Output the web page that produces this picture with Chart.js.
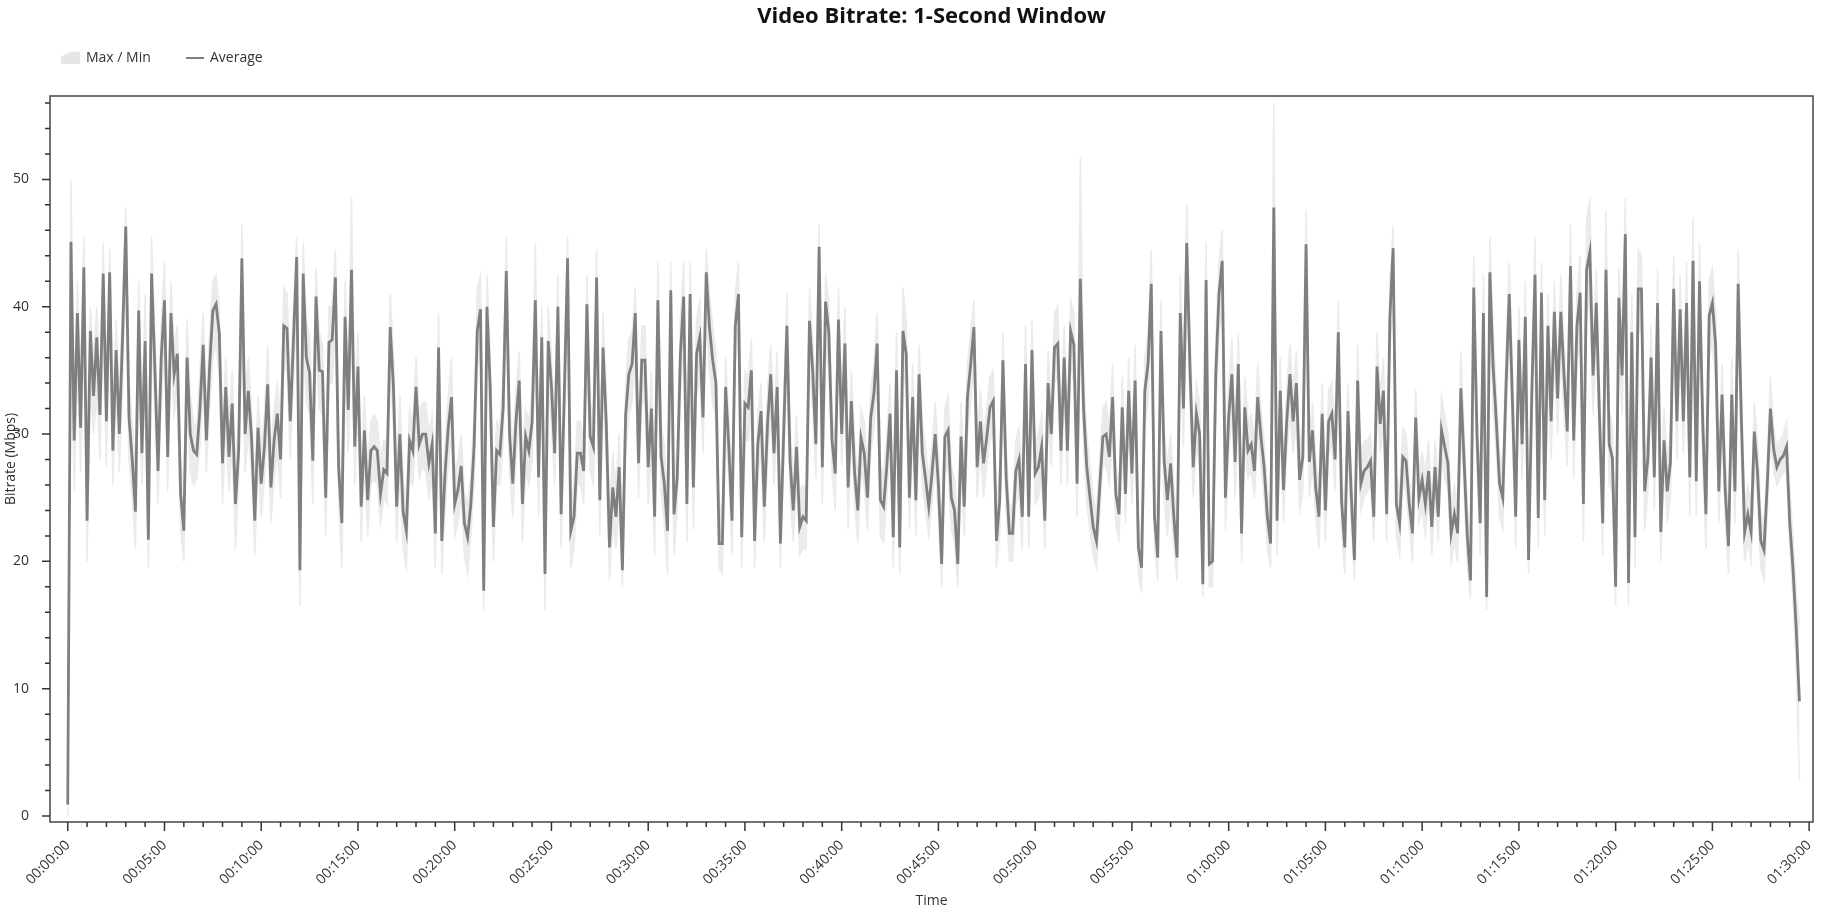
<!DOCTYPE html>
<html>
<head>
<meta charset="utf-8">
<title>Video Bitrate: 1-Second Window</title>
<script src="https://cdn.jsdelivr.net/npm/chart.js@4.4.1/dist/chart.umd.min.js"></script>
<style>
  html, body { margin: 0; padding: 0; background: #fff; }
  #wrap { width: 1837px; height: 912px; position: relative; }
</style>
</head>
<body>
<div id="wrap"><canvas id="bitrateChart"></canvas></div>
<script>
// values, one sample every 10 seconds (Mbps)
const stepSec = 10;
const chartTitle = 'Video Bitrate: 1-Second Window';

const avgMbps = [
  // 00:00 - 00:15
  0.9, 45.1, 29.5, 39.5, 30.5, 43.1, 23.2, 38.1, 33, 37.6,
  31.5, 42.6, 31, 42.7, 28.7, 36.6, 30, 37.6, 46.3, 31.3,
  28, 23.9, 39.7, 28.5, 37.3, 21.7, 42.6, 35.3, 27.1, 36,
  40.5, 28.2, 39.5, 34.7, 36.3, 25.3, 22.4, 36, 30, 28.7,
  28.4, 32, 37, 29.5, 35.3, 39.7, 40.2, 37.9, 27.7, 33.7,
  28.2, 32.4, 24.5, 28.7, 43.8, 30, 33.4, 29.7, 23.2, 30.5,
  26.1, 29, 33.9, 25.8, 29.5, 31.6, 28, 38.5, 38.3, 31,
  37.4, 43.9, 19.3, 42.6, 36, 34.8, 27.9, 40.8, 35, 34.9,
  25, 37.2, 37.4, 42.3, 27.4, 23, 39.2, 31.9, 42.9, 29,
  // 00:15 - 00:30
  35.3, 24.3, 30.3, 24.8, 28.7, 29, 28.7, 25.3, 27.2, 26.9,
  38.4, 33.7, 24.3, 30, 23.9, 22.4, 29.5, 28.7, 33.7, 29.2,
  30, 30, 27.7, 29.2, 22.2, 36.8, 21.6, 26.9, 30.5, 32.9,
  24.5, 25.6, 27.5, 23, 21.9, 24.5, 29, 38.1, 39.8, 17.7,
  40, 33.7, 22.7, 28.7, 28.4, 32, 42.8, 30, 26.1, 31,
  34.2, 24.5, 29.8, 28.7, 31, 40.5, 26.6, 37.6, 19, 37.3,
  33.7, 28.5, 40, 23.7, 33.2, 43.8, 22.4, 23.5, 28.5, 28.5,
  27.1, 40.2, 29.8, 29, 42.3, 24.8, 36.8, 30.8, 21.1, 25.8,
  23.5, 27.4, 19.3, 31.5, 34.7, 35.5, 39.5, 27.7, 35.8, 35.8,
  // 00:30 - 00:45
  27.4, 32, 23.5, 40.5, 28.2, 26.1, 22.4, 41.3, 23.7, 26.6,
  36.3, 40.8, 24.5, 41, 25.8, 36.3, 37.6, 31.3, 42.7, 38.4,
  35.8, 34, 21.4, 21.4, 33.7, 29, 23.2, 38.5, 41, 21.9,
  32.4, 32.1, 35, 21.6, 29.2, 31.8, 24.3, 30.8, 34.7, 28.5,
  33.7, 21.4, 30, 38.5, 27.9, 24, 29, 22.7, 23.5, 23.2,
  38.9, 35, 29.2, 44.7, 27.4, 40.4, 38, 29.5, 26.9, 39,
  30, 37.1, 25.8, 32.6, 27, 24, 29.7, 28.5, 25, 31.3,
  33.2, 37.1, 24.8, 24.3, 27.5, 31.6, 21.9, 35, 21.1, 38.1,
  36.3, 25, 32.9, 24.8, 34.7, 28.5, 26.5, 24.3, 26.9, 30,
  // 00:45 - 01:00
  26, 19.8, 29.8, 30.3, 25, 24, 19.8, 29.8, 24.3, 32.9,
  35.5, 38.4, 27.4, 31, 27.7, 29.8, 32.1, 32.6, 21.6, 24.8,
  35.8, 26.6, 22.2, 22.2, 27.1, 28, 23.5, 35.5, 23.5, 36.6,
  26.9, 27.4, 29, 23.2, 34, 30, 36.8, 37.1, 28.7, 36,
  28.7, 38.1, 37, 26.1, 42.2, 32, 27.4, 25, 22.7, 21.6,
  25.8, 29.8, 30, 28.2, 32.9, 25.3, 23.7, 32.1, 25.3, 33.4,
  26.9, 34.2, 21.1, 19.5, 33.4, 35.5, 41.8, 23.5, 20.3, 38.1,
  27.9, 24.8, 27.7, 23.5, 20.3, 39.5, 32, 45, 35.3, 27.4,
  31.6, 30, 18.2, 42.1, 19.8, 20, 34.7, 41, 43.6, 25,
  // 01:00 - 01:15
  31.3, 34.7, 27.8, 35.5, 22.2, 32.1, 28.7, 29.2, 27.1, 32.9,
  29.8, 27.4, 23.5, 21.4, 47.8, 23.2, 33.4, 25.6, 31, 34.7,
  31, 34, 26.4, 28.2, 44.9, 27.8, 30.3, 25.8, 23.5, 31.6,
  24, 31, 31.6, 28, 38, 24.8, 21.1, 31.8, 25.3, 20.1,
  34.2, 26.1, 27.1, 27.4, 27.9, 23.5, 35.3, 30.8, 33.4, 23.7,
  39.2, 44.6, 24.5, 23, 28.2, 27.9, 24.5, 22.2, 31.3, 25,
  26.4, 24.5, 27.1, 22.7, 27.4, 23.5, 30.3, 29, 27.7, 22.2,
  23.7, 22.2, 33.6, 27.9, 22, 18.5, 41.5, 30, 23, 39.5,
  17.2, 42.7, 35.3, 31, 26.1, 25, 33.7, 41, 32.6, 23.5,
  // 01:15 - end
  37.4, 29.2, 39.2, 20.1, 33.1, 42.5, 23.4, 41.1, 24.8, 38.5,
  31, 39.6, 32.8, 39.6, 34.6, 30.2, 43.2, 29.5, 38.5, 41.1,
  24.5, 42.9, 44.3, 34.6, 40.3, 31.3, 23, 42.9, 29.2, 28.1,
  18, 40.7, 34.6, 45.7, 18.3, 38, 21.9, 41.4, 41.4, 25.5,
  28.1, 36, 26.6, 40.3, 22.3, 29.5, 25.5, 27.8, 41.4, 31,
  39.8, 31, 40.3, 26.6, 43.6, 26.3, 42, 31, 23.7, 39.3,
  40.3, 37, 25.5, 33.1, 25.5, 21.2, 33.1, 25.5, 41.8, 31,
  22.3, 23.7, 22.3, 30.2, 27, 21.6, 20.9, 25.9, 32, 28.8,
  27.4, 28, 28.3, 29, 23, 19.4, 14.7, 9
];

const maxMbps = [
  1.2, 50, 33, 42, 34, 45.5, 27, 40, 36, 40,
  34, 45, 34, 44.5, 32, 39, 33, 40.5, 47.8, 34,
  31, 27, 42, 31, 41, 26, 45.5, 38, 30, 39,
  43.5, 31, 42, 37, 38.5, 28, 26, 39, 33, 31,
  30.5, 35, 39.5, 32, 38, 42, 42.5, 40, 30.5, 36,
  31, 35, 27.5, 31, 46.5, 33, 36, 32, 26, 33,
  29, 31.5, 37, 28.5, 32, 34, 31, 41.5, 41, 34,
  40, 45.5, 23, 45, 39, 37.5, 31, 43, 38, 37,
  28, 40, 40, 44.5, 30, 26, 42, 35, 48.6, 32,

  38, 27, 33, 27.5, 31, 31.5, 31, 28, 29.5, 29.5,
  41, 36.5, 27, 33, 26.5, 25, 32, 31, 36, 31.5,
  32.5, 32.5, 30, 31.5, 25, 39.5, 24.5, 29.5, 33, 36,
  27, 28, 30, 25.5, 24.5, 27, 31.5, 41.5, 42.5, 21,
  42.5, 36.5, 25.5, 31, 30.5, 34.5, 45.5, 32.5, 29, 33.5,
  36.5, 27.5, 32, 31, 33.5, 45, 29.5, 40, 22, 40,
  36, 31, 42.5, 26.5, 36, 45.5, 25, 26, 31, 31,
  29.5, 42.5, 32.5, 31.5, 44.5, 27.5, 39.5, 33.5, 24, 28.5,
  26, 30, 22.5, 34, 37.5, 38, 41.5, 30.5, 38.5, 38.5,

  30, 35, 26, 43.5, 31, 29, 25, 43.5, 26.5, 29,
  39, 43.5, 27.5, 43.5, 28.5, 39, 40.5, 34, 44.5, 41,
  38.5, 36.5, 24.5, 24.5, 36, 31.5, 26, 41, 43.5, 24.5,
  35, 34.5, 37.5, 24.5, 31.5, 34, 27, 33.5, 37, 31,
  36.5, 24.5, 32.5, 41, 30.5, 26.5, 31.5, 25.5, 26, 25.5,
  41.5, 37.5, 31.5, 46.5, 30, 42.5, 40.5, 32, 29.5, 41.5,
  32.5, 40, 28.5, 35, 29.5, 26.5, 32, 31, 27.5, 33.5,
  35.5, 39.5, 27.5, 27, 30, 34, 24.5, 38, 24, 41.5,
  39, 27.5, 35.5, 27.5, 37, 31, 29, 26.5, 29, 32.5,

  28.5, 22.5, 32, 33, 27.5, 26.5, 22.5, 32.5, 27, 35.5,
  38, 40.5, 30, 33.5, 30, 32, 34.5, 35, 24, 27.5,
  38, 29, 24.5, 24.5, 29.5, 30.5, 26, 38.5, 26, 39,
  29.5, 30, 31.5, 25.5, 36.5, 32.5, 39.5, 40, 31, 38.5,
  31, 40.5, 39.5, 28.5, 51.7, 34.5, 30, 27.5, 25, 24,
  28, 32, 32.5, 30.5, 35.5, 27.5, 26, 34.5, 27.5, 36,
  29.5, 37, 23.5, 22, 36, 38, 44.5, 26, 23, 40.5,
  30.5, 27.5, 30, 26, 23, 42.5, 35, 48.1, 38, 30,
  34, 32.5, 21.5, 45, 22.5, 22.5, 37.5, 43.5, 46, 28,

  34, 37.5, 30, 38, 25, 34.5, 31, 31.5, 29.5, 35.5,
  32, 29.5, 26, 24, 56, 26, 36, 28, 33.5, 37,
  33.5, 36.5, 29, 30.5, 47.6, 30, 32.5, 28, 26, 34,
  26.5, 33.5, 34, 30.5, 40.5, 27, 23.5, 34, 27.5, 22.5,
  37, 28.5, 29.5, 29.5, 30, 26, 38, 33, 36, 26,
  42, 46.3, 27, 25.5, 30.5, 30, 26.5, 24.5, 33.5, 27,
  28.5, 27, 29.5, 25, 29.5, 26, 33, 31.5, 30, 24.5,
  26, 24.5, 36.5, 30.5, 24.5, 21, 44, 32.5, 26, 42.5,
  20, 45.5, 38, 33.5, 28.5, 27.5, 36.5, 43.5, 35, 26,

  40, 31.5, 42, 23, 36, 45.5, 26, 43.5, 27.5, 41,
  33.5, 42, 35, 42.5, 37, 32.5, 46.5, 32, 41, 44,
  27, 47, 48.3, 37, 43, 33.5, 25.5, 47.5, 32, 30.5,
  20.5, 43, 37, 48.5, 21, 41, 24.5, 44.5, 44, 28,
  30.5, 38.5, 29, 43, 25, 32, 28, 30, 44, 33.5,
  42.5, 33.5, 43.5, 29, 47, 29, 45, 33.5, 26.5, 42,
  43, 39.5, 28, 35.5, 28, 23.5, 36, 28, 44.5, 33.5,
  24.5, 26, 24.5, 32.5, 29.5, 24, 23, 28, 34.5, 30.5,
  29, 29.5, 30, 31, 25.5, 22, 17.5, 15
];

const minMbps = [
  0, 40, 25.5, 35, 27, 38, 20, 34, 30, 33,
  28, 38, 27.5, 39, 26, 33, 27, 34, 42, 28,
  25, 21, 36, 26, 34, 19.5, 38, 32, 24.5, 32.5,
  37, 25.5, 36, 31.5, 33, 22.5, 20, 32.5, 27, 26,
  26.5, 29, 34, 27, 32, 36, 37, 34.5, 24.5, 30.5,
  25.5, 29, 21, 26, 39, 27, 30, 27, 20.5, 27.5,
  23.5, 26.5, 30.5, 23, 26.5, 28.5, 25, 35, 35, 28,
  34, 39, 16.5, 38, 32.5, 31.5, 24.5, 37, 32, 31.5,
  22, 34, 34, 38, 24.5, 19.5, 35, 28.5, 39, 26,

  32, 21.5, 27.5, 22, 26, 26.5, 26, 23, 25, 24.5,
  35, 30.5, 21.5, 27, 21, 19.5, 26.5, 26, 30.5, 26.5,
  27.5, 27, 25, 26.5, 19.5, 33.5, 19, 24, 27.5, 30,
  22, 23, 25, 20.5, 19, 22, 26, 35, 36.5, 16.2,
  36.5, 30.5, 20, 26, 26, 29, 39, 27, 23.5, 28,
  31, 21.5, 27, 26, 28, 37, 23.5, 34, 16.2, 34,
  30.5, 26, 36.5, 21, 30, 40, 19.5, 21, 26, 26,
  24.5, 36.5, 27, 26, 38.5, 22, 33.5, 28, 18.5, 23,
  21, 24.5, 18, 28.5, 31.5, 32.5, 36, 25, 32.5, 32.5,

  24.5, 29, 20.5, 37, 25.5, 23, 19, 37.5, 20.5, 24,
  33, 37, 21.5, 37.5, 22.5, 33, 34.5, 28.5, 39, 35,
  32.5, 31, 19.5, 19, 30.5, 26.5, 20.5, 35.5, 37.5, 19.5,
  29.5, 29.5, 32, 19.5, 26.5, 29, 21.5, 28, 31.5, 26,
  30.5, 19.5, 27.5, 35, 25, 21.5, 26.5, 20.5, 21, 21,
  35.5, 32, 26.5, 41, 24.5, 37, 35, 27, 24, 35.5,
  27.5, 34, 22.5, 30, 24.5, 21.5, 27, 26, 22.5, 28.5,
  30.5, 34, 22, 21.5, 25, 29, 19.5, 32, 19, 35,
  33.5, 22.5, 30, 22, 31.5, 26, 24, 22, 24.5, 27.5,

  23.5, 18, 27, 27.5, 22.5, 21.5, 18, 27, 22, 30,
  32.5, 35.5, 25, 28.5, 25, 27.5, 29.5, 30, 19.5, 22,
  33, 24, 20, 20, 24.5, 25.5, 21, 32.5, 21, 33.5,
  24.5, 25, 26.5, 21, 31, 27.5, 34, 34.5, 26, 33,
  26, 35.5, 34, 23.5, 38.5, 29, 24.5, 22.5, 20.5, 19.5,
  23.5, 27.5, 27.5, 26, 30, 23, 21.5, 29.5, 23, 30.5,
  24.5, 31.5, 19, 17.5, 30.5, 32.5, 38, 21, 18.5, 35,
  25, 22, 25, 21, 18.5, 36, 29, 41, 32, 25,
  29, 27.5, 17.2, 38.5, 18, 18, 31.5, 37.5, 40, 22.5,

  28.5, 31.5, 25, 32.5, 20, 29.5, 26.5, 27, 25, 30,
  27.5, 25, 21, 19.5, 42, 20.5, 30.5, 23, 28.5, 31.5,
  28.5, 31, 24, 25.5, 41, 25, 27.5, 23.5, 21, 29,
  21.5, 28.5, 29, 25.5, 35, 22.5, 19, 29, 23, 18.5,
  31.5, 24, 25, 25.5, 26, 21.5, 32.5, 28.5, 31, 21.5,
  36, 41, 22, 20.5, 26, 25.5, 22.5, 20, 29, 23,
  24, 22, 25, 20.5, 25, 21.5, 28, 26.5, 25.5, 20,
  21.5, 20, 30.5, 25.5, 19.5, 17, 38, 27.5, 20.5, 36,
  16.2, 39, 32, 28.5, 23.5, 22.5, 30.5, 37.5, 30, 21,

  34, 26.5, 36, 19, 30, 39, 21, 37.5, 22, 35,
  28, 36, 30, 36.5, 31.5, 27.5, 39.5, 26.5, 35.5, 37.5,
  21.5, 39, 40.5, 31.5, 37, 28.5, 20.5, 39.5, 26, 25.5,
  16.5, 37, 31.5, 42, 16.5, 35, 19.5, 38, 38, 22.5,
  25.5, 33, 24, 37, 20, 27, 23, 25, 38, 28,
  36.5, 28.5, 37, 23.5, 40, 23.5, 38.5, 28, 21, 36,
  37, 34, 23, 30.5, 23, 19, 30, 23, 38, 28.5,
  20, 21.5, 20, 27.5, 24.5, 19.5, 18.5, 23.5, 29.5, 27,
  26, 26.5, 27, 27, 21, 17, 11.5, 2.8
];

// axis labels
const timeLabels = ['00:00:00', '00:05:00', '00:10:00', '00:15:00', '00:20:00', '00:25:00',
  '00:30:00', '00:35:00', '00:40:00', '00:45:00', '00:50:00', '00:55:00', '01:00:00',
  '01:05:00', '01:10:00', '01:15:00', '01:20:00', '01:25:00', '01:30:00'];
const yLabels = [0, 10, 20, 30, 40, 50];

const toPoints = arr => arr.map((v, i) => ({ x: i * stepSec, y: v }));

Chart.defaults.font.family = "'Open Sans', 'Noto Sans', sans-serif";
Chart.defaults.font.size = 14;
Chart.defaults.color = '#333';

// box, tick marks, title and legend
const frame = {
  id: 'frame',
  afterDraw(chart) {
    const { ctx, chartArea: a, scales: { x, y } } = chart;
    ctx.save();
    ctx.strokeStyle = '#444';
    ctx.lineWidth = 1.5;
    ctx.strokeRect(a.left, a.top, a.right - a.left, a.bottom - a.top);

    ctx.strokeStyle = '#333';
    ctx.beginPath();
    x.ticks.forEach(t => {
      const px = x.getPixelForValue(t.value);
      const len = t.value % 300 === 0 ? 9 : 5;
      ctx.moveTo(px, a.bottom);
      ctx.lineTo(px, a.bottom + len);
    });
    y.ticks.forEach(t => {
      const py = y.getPixelForValue(t.value);
      const len = t.value % 10 === 0 ? 8 : 5;
      ctx.moveTo(a.left, py);
      ctx.lineTo(a.left - len, py);
    });
    ctx.stroke();

    ctx.fillStyle = '#111';
    ctx.font = "bold 22px 'Open Sans'";
    ctx.textAlign = 'center';
    ctx.textBaseline = 'middle';
    ctx.fillText(chartTitle, (a.left + a.right) / 2, 17);

    // legend
    ctx.fillStyle = '#e6e6e6';
    ctx.beginPath();
    ctx.moveTo(61, 64);
    ctx.lineTo(61, 57);
    ctx.lineTo(70, 52);
    ctx.lineTo(80, 51.5);
    ctx.lineTo(80, 64);
    ctx.closePath();
    ctx.fill();
    ctx.strokeStyle = '#808080';
    ctx.lineWidth = 2;
    ctx.beginPath();
    ctx.moveTo(186, 58);
    ctx.lineTo(204, 58);
    ctx.stroke();
    ctx.fillStyle = '#333';
    ctx.font = "14px 'Open Sans'";
    ctx.textAlign = 'left';
    ctx.fillText(chart.data.datasets[0].label, 86, 58);
    ctx.fillText(chart.data.datasets[2].label, 210, 58);
    ctx.restore();
  }
};

const ctx = document.getElementById('bitrateChart').getContext('2d');
const chart = new Chart(ctx, {
  type: 'line',
  data: {
    datasets: [
      {
        label: 'Max / Min',
        data: toPoints(maxMbps),
        borderColor: '#ebebeb',
        backgroundColor: '#ebebeb',
        borderWidth: 1.5,
        fill: '+1',
        order: 2
      },
      {
        label: 'Min',
        data: toPoints(minMbps),
        borderColor: '#ebebeb',
        borderWidth: 1.5,
        fill: false,
        order: 2
      },
      {
        label: 'Average',
        data: toPoints(avgMbps),
        borderColor: '#7f7f7f',
        borderWidth: 2.8,
        fill: false,
        order: 1
      }
    ]
  },
  options: {
    responsive: true,
    maintainAspectRatio: false,
    animation: false,
    events: [],
    layout: { padding: { top: 96, right: 24, left: 0, bottom: 0 } },
    elements: { point: { radius: 0 }, line: { tension: 0, borderJoinStyle: 'miter' } },
    plugins: {
      legend: { display: false },
      title: { display: false },
      tooltip: { enabled: false }
    },
    scales: {
      x: {
        type: 'linear',
        min: -55,
        max: 5412,
        grid: { display: false },
        border: { display: false },
        afterBuildTicks: scale => {
          const t = [];
          for (let m = 0; m <= 90; m++) t.push({ value: m * 60 });
          scale.ticks = t;
        },
        afterFit: scale => {
          scale.height = 90;
          scale.paddingLeft = 0;
          scale.paddingRight = 0;
        },
        ticks: {
          autoSkip: false,
          minRotation: 45,
          maxRotation: 45,
          padding: 7,
          color: '#333',
          font: { size: 14 },
          callback: value => value % 300 === 0 ? timeLabels[value / 300] : ''
        },
        title: { display: true, text: 'Time', color: '#333', font: { size: 14 }, padding: { top: 4, bottom: 3 } }
      },
      y: {
        type: 'linear',
        min: -0.47,
        max: 56.55,
        grid: { display: false },
        border: { display: false },
        afterBuildTicks: scale => {
          const t = [];
          for (let v = 0; v <= 56; v += 2) t.push({ value: v });
          scale.ticks = t;
        },
        afterFit: scale => {
          scale.width = 50;
          scale.paddingTop = 0;
          scale.paddingBottom = 0;
        },
        ticks: {
          autoSkip: false,
          padding: 13,
          color: '#333',
          font: { size: 14 },
          callback: value => yLabels.includes(value) ? String(value) : ''
        },
        title: { display: true, text: 'Bitrate (Mbps)', color: '#333', font: { size: 14 }, padding: { top: 3, bottom: 4 } }
      }
    }
  },
  plugins: [frame]
});
</script>
</body>
</html>
